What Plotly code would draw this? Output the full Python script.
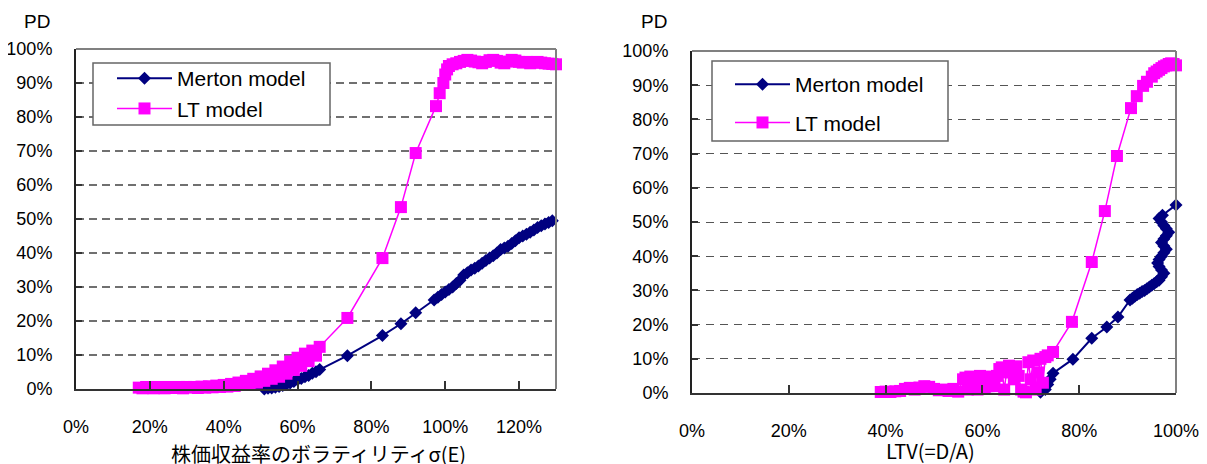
import plotly.graph_objects as go

W, H = 1207, 464
OFF = 8  # page body margin

# ---------------- data: left chart (equity volatility) ----------------
vol_merton_x = [0.17, 0.19, 0.21, 0.23, 0.25, 0.27, 0.29, 0.31, 0.33, 0.35, 0.37, 0.39, 0.41, 0.43,
                0.45, 0.47, 0.49, 0.51, 0.52, 0.53, 0.54, 0.55, 0.56, 0.57, 0.58, 0.59, 0.60, 0.61,
                0.62, 0.63, 0.64, 0.65, 0.66, 0.735, 0.83, 0.88, 0.92, 0.97, 0.98, 0.99, 1.00, 1.01,
                1.02, 1.03, 1.04, 1.05, 1.06, 1.07, 1.08, 1.09, 1.10, 1.11, 1.12, 1.13, 1.14, 1.15,
                1.16, 1.17, 1.18, 1.19, 1.20, 1.21, 1.22, 1.23, 1.24, 1.25, 1.26, 1.27, 1.28, 1.29,
                1.31]
vol_merton_y = [-0.003, -0.004, -0.003, -0.004, -0.003, -0.004, -0.003, -0.004, -0.003, -0.004, -0.003,
                -0.003, -0.002, -0.003, -0.002, -0.002, -0.001, 0.000, 0.002, 0.003, 0.005, 0.007,
                0.010, 0.014, 0.018, 0.022, 0.027, 0.031, 0.036, 0.040, 0.046, 0.051, 0.057, 0.098,
                0.157, 0.192, 0.224, 0.262, 0.270, 0.278, 0.285, 0.293, 0.300, 0.310, 0.320, 0.335,
                0.342, 0.350, 0.355, 0.362, 0.370, 0.378, 0.385, 0.392, 0.400, 0.410, 0.415, 0.420,
                0.428, 0.436, 0.445, 0.450, 0.455, 0.461, 0.468, 0.475, 0.480, 0.485, 0.490, 0.495,
                0.505]

vol_lt_x = [0.17, 0.18, 0.19, 0.20, 0.21, 0.22, 0.23, 0.24, 0.25, 0.26, 0.27, 0.28, 0.29, 0.30,
            0.31, 0.32, 0.33, 0.34, 0.35, 0.36, 0.37, 0.38, 0.39, 0.40, 0.41, 0.42, 0.43, 0.44,
            0.45, 0.46, 0.47, 0.48, 0.49, 0.50, 0.51, 0.52, 0.53, 0.54, 0.55, 0.56, 0.57, 0.58,
            0.59, 0.60, 0.61, 0.62, 0.63, 0.64, 0.65, 0.66, 0.735, 0.83, 0.88, 0.92, 0.975, 0.985,
            0.995, 1.00, 1.005, 1.01, 1.02, 1.03, 1.04, 1.05, 1.06, 1.07, 1.08, 1.09, 1.10, 1.11,
            1.12, 1.13, 1.14, 1.15, 1.16, 1.17, 1.18, 1.19, 1.20, 1.21, 1.22, 1.23, 1.24, 1.25,
            1.26, 1.27, 1.28, 1.29, 1.30, 1.315]
vol_lt_y = [0.004, 0.002, 0.006, 0.003, 0.002, 0.006, 0.004, 0.002, 0.006, 0.003, 0.004, 0.006,
            0.002, 0.006, 0.004, 0.006, 0.003, 0.007, 0.004, 0.008, 0.005, 0.010, 0.006, 0.012,
            0.007, 0.015, 0.009, 0.019, 0.012, 0.024, 0.015, 0.030, 0.019, 0.037, 0.024, 0.045,
            0.030, 0.055, 0.036, 0.066, 0.045, 0.081, 0.056, 0.092, 0.068, 0.104, 0.082, 0.113,
            0.098, 0.124, 0.209, 0.385, 0.535, 0.694, 0.832, 0.870, 0.900, 0.925, 0.940, 0.950,
            0.955, 0.958, 0.962, 0.965, 0.968, 0.966, 0.963, 0.961, 0.958, 0.962, 0.967, 0.968,
            0.965, 0.960, 0.958, 0.963, 0.968, 0.966, 0.962, 0.960, 0.962, 0.958, 0.960, 0.962,
            0.960, 0.958, 0.957, 0.956, 0.955, 0.948]

# ---------------- data: right chart (LTV) ----------------
ltv_merton_x = [0.39, 0.41, 0.43, 0.45, 0.47, 0.49, 0.51, 0.53, 0.55, 0.57, 0.59, 0.61, 0.63, 0.65,
                0.67, 0.69, 0.71, 0.72, 0.73, 0.735, 0.74, 0.746, 0.787, 0.826, 0.857, 0.88, 0.905,
                0.91, 0.915, 0.92, 0.925, 0.93, 0.935, 0.94, 0.945, 0.95, 0.955, 0.96, 0.965, 0.97,
                0.975, 0.97, 0.965, 0.962, 0.965, 0.97, 0.975, 0.98, 0.975, 0.97, 0.975, 0.98, 0.985,
                0.98, 0.975, 0.97, 0.965, 0.972, 1.00]
ltv_merton_y = [-0.003, -0.002, -0.004, -0.001, -0.003, -0.002, -0.004, -0.001, -0.003, -0.002,
                -0.004, -0.002, -0.003, -0.002, -0.004, -0.002, -0.004, 0.002, 0.010, 0.025, 0.040,
                0.058, 0.099, 0.160, 0.193, 0.222, 0.272, 0.277, 0.283, 0.288, 0.292, 0.297, 0.300,
                0.305, 0.310, 0.315, 0.320, 0.325, 0.330, 0.340, 0.350, 0.360, 0.370, 0.380, 0.390,
                0.400, 0.410, 0.420, 0.430, 0.440, 0.450, 0.460, 0.470, 0.480, 0.490, 0.500, 0.510,
                0.520, 0.550]

ltv_lt_x = [0.39, 0.40, 0.41, 0.42, 0.43, 0.44, 0.45, 0.46, 0.47, 0.48, 0.49, 0.50, 0.51, 0.52,
            0.53, 0.54, 0.55, 0.56, 0.565, 0.57, 0.575, 0.58, 0.585, 0.59, 0.595, 0.60, 0.605, 0.61,
            0.615, 0.62, 0.625, 0.63, 0.635, 0.64, 0.645, 0.65, 0.655, 0.66, 0.665, 0.67, 0.675,
            0.68, 0.685, 0.69, 0.695, 0.70, 0.705, 0.71, 0.715, 0.72, 0.725, 0.73, 0.735, 0.746,
            0.785, 0.826, 0.853, 0.878, 0.907, 0.919, 0.932, 0.94, 0.95, 0.955, 0.96, 0.965, 0.97,
            0.975, 0.98, 0.985, 0.99, 0.995, 1.00]
ltv_lt_y = [0.003, 0.004, 0.003, 0.005, 0.006, 0.012, 0.015, 0.010, 0.016, 0.020, 0.018, 0.012,
            0.008, 0.010, 0.006, 0.012, 0.004, 0.040, 0.045, 0.010, 0.048, 0.030, 0.044, 0.010,
            0.050, 0.046, 0.012, 0.048, 0.030, 0.040, 0.020, 0.050, 0.070, 0.075, 0.010, 0.060,
            0.080, 0.072, 0.040, 0.078, 0.050, 0.010, 0.004, 0.002, 0.090, 0.040, 0.095, 0.010,
            0.060, 0.100, 0.030, 0.105, 0.110, 0.120, 0.208, 0.383, 0.532, 0.693, 0.833, 0.868,
            0.898, 0.910, 0.925, 0.935, 0.940, 0.945, 0.950, 0.955, 0.958, 0.962, 0.964, 0.962,
            0.958]

series_names = ["Merton model", "LT model"]
y_title = "PD"
x_title_left = "株価収益率のボラティリティσ(E)"
x_title_right = "LTV(=D/A)"

NAVY = "#000080"
PINK = "#FF00FF"
LATIN = "Liberation Sans, Arial, sans-serif"
CJK = "Noto Sans CJK JP, sans-serif"


def px(x):
    return (x - OFF) / W


def py(y):
    return 1 - (y - OFF) / H


fig = go.Figure()


def add_series(x, y, name, color, symbol, size, lw, xa, ya, leg, group):
    fig.add_trace(go.Scatter(
        x=x, y=y, name=name, mode="lines+markers", xaxis=xa, yaxis=ya,
        line=dict(color=color, width=lw),
        marker=dict(symbol=symbol, size=size, color=color, line=dict(width=0)),
        cliponaxis=False, legend=leg, legendgroup=group, showlegend=True))


add_series(vol_merton_x, vol_merton_y, series_names[0], NAVY, "diamond", 10, 2, "x", "y", "legend", "a1")
add_series(vol_lt_x, vol_lt_y, series_names[1], PINK, "square", 12, 1.5, "x", "y", "legend", "a2")
add_series(ltv_merton_x, ltv_merton_y, series_names[0], NAVY, "diamond", 10, 2, "x2", "y2", "legend2", "b1")
add_series(ltv_lt_x, ltv_lt_y, series_names[1], PINK, "square", 12, 1.5, "x2", "y2", "legend2", "b2")

tickfont = dict(family=LATIN, size=18, color="#000")

common_x = dict(tickformat=".0%", dtick=0.2, tick0=0, showgrid=False, zeroline=False,
                showline=True, linecolor="#333", linewidth=2, ticks="inside", ticklen=8,
                tickwidth=1.5, tickcolor="#333", tickfont=tickfont, automargin=False)
common_y = dict(tickformat=".0%", dtick=0.1, tick0=0, range=[0, 1], zeroline=False,
                showline=True, linecolor="#222", linewidth=2, ticks="inside", ticklen=6,
                tickwidth=1.5, tickcolor="#333", tickfont=tickfont, showgrid=True,
                automargin=False)

fig.update_layout(
    width=W, height=H, margin=dict(l=0, r=0, t=0, b=0, autoexpand=False),
    paper_bgcolor="white", plot_bgcolor="white", showlegend=True,
    xaxis=dict(common_x, domain=[px(76), px(556)], range=[0, 1.3], anchor="y",
               ticklabelstandoff=20),
    yaxis=dict(common_y, domain=[py(389), py(49)], anchor="x", ticklabelstandoff=18,
               gridcolor="#707070", gridwidth=1.8, griddash="8px,5px"),
    xaxis2=dict(common_x, domain=[px(692), px(1176)], range=[0, 1], anchor="y2",
                ticklabelstandoff=20),
    yaxis2=dict(common_y, domain=[py(393), py(51)], anchor="x2", ticklabelstandoff=18,
                gridcolor="#555555", gridwidth=1.1, griddash="8px,6px"),
    legend=dict(x=px(112), y=py(58), xanchor="left", yanchor="top",
                bgcolor="rgba(0,0,0,0)", borderwidth=0, tracegroupgap=0,
                font=dict(family=LATIN, size=21, color="#000"), itemwidth=55),
    legend2=dict(x=px(730), y=py(64), xanchor="left", yanchor="top",
                 bgcolor="rgba(0,0,0,0)", borderwidth=0, tracegroupgap=8,
                 font=dict(family=LATIN, size=21, color="#000"), itemwidth=55),
)

shapes = []
# legend boxes
shapes.append(dict(type="rect", xref="paper", yref="paper", x0=px(93), x1=px(330), y0=py(125), y1=py(63),
                   fillcolor="white", line=dict(color="#666", width=1.5), layer="above"))
shapes.append(dict(type="rect", xref="paper", yref="paper", x0=px(712), x1=px(948), y0=py(141), y1=py(61),
                   fillcolor="white", line=dict(color="#666", width=1.5), layer="above"))
# top / right plot borders (gray)
for xr, yr in (("x domain", "y domain"), ("x2 domain", "y2 domain")):
    shapes.append(dict(type="line", xref=xr, yref=yr, x0=0, x1=1, y0=1, y1=1,
                       line=dict(color="#808080", width=2), layer="above"))
    shapes.append(dict(type="line", xref=xr, yref=yr, x0=1, x1=1, y0=0, y1=1,
                       line=dict(color="#808080", width=2), layer="above"))
fig.update_layout(shapes=shapes)


def label(text, x, y, family, size):
    return dict(text=text, x=px(x), y=py(y), xref="paper", yref="paper", showarrow=False,
                xanchor="center", yanchor="middle", font=dict(family=family, size=size, color="#000"))


annotations = [
    label(y_title, 37, 22, LATIN, 19),
    label(y_title, 654, 21, LATIN, 19),
    label(x_title_left, 318, 453, CJK, 20),
    label(x_title_right, 931, 450, CJK, 20),
]
fig.update_layout(annotations=annotations)

fig.write_html("out.html")
